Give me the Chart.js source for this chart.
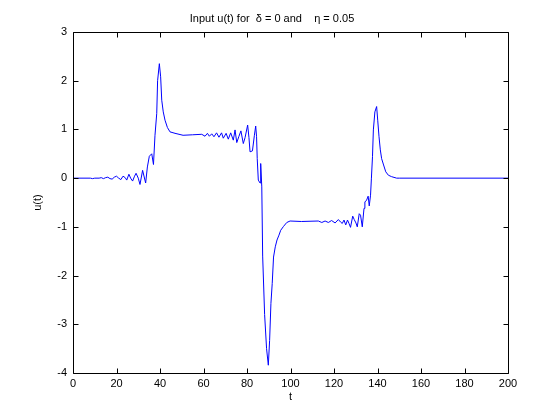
<!DOCTYPE html>
<html>
<head>
<meta charset="utf-8">
<script src="https://cdn.jsdelivr.net/npm/chart.js@4/dist/chart.umd.min.js"></script>
<style>
  html, body { margin: 0; padding: 0; background: #fff; }
  #wrap { width: 560px; height: 420px; }
</style>
</head>
<body>
<div id="wrap"><canvas id="c" width="560" height="420"></canvas></div>
<script>
const titleText = "Input u(t) for  \u03B4 = 0 and    \u03B7 = 0.05";
const xLabel = "t";
const yLabel = "u(t)";
const xTicks = [0, 20, 40, 60, 80, 100, 120, 140, 160, 180, 200];
const yTicks = [-4, -3, -2, -1, 0, 1, 2, 3];

const tValues = [
  0, 8, 9, 10, 12, 13, 14, 15, 16, 17, 18, 19, 20, 21, 22, 23, 24, 24.7, 25.7, 26.5,
  27.4, 28.3, 29, 30, 30.8, 32, 33.4, 34.2, 35.1, 36.2, 37, 37.7, 38.5, 38.9, 39.7, 40.3,
  40.8, 41.5, 42.3, 43.4, 44.6, 46.9, 50.6, 55, 59.2, 60.7, 61.8, 62.7, 63.8, 64.8,
  66, 67.1, 68.3, 69.1, 70.4, 71.4, 72.5, 73.7, 74.5, 75.3, 76.3, 77.2, 78.3, 79.1,
  80.3, 80.9, 81.4, 82.5, 83.4, 84.0, 84.4, 84.7, 85.2, 86.0, 86.3, 86.8, 87.2, 88.1,
  89.0, 89.8, 90.4, 91.0, 91.6, 92.2, 93.0, 93.8, 94.7, 95.5, 96.8, 98.3, 99.8, 105,
  112.8, 114.4, 115.9, 117.4, 118.9, 120.5, 122, 123, 123.8, 124.6, 125.4, 126.2,
  126.9, 127.6, 128.6, 129.3, 130.1, 130.7, 131.6, 132.2, 133.0, 133.8, 134.2, 135.0,
  135.7, 136.2, 136.8, 137.2, 137.7, 138.1, 138.8, 139.6, 140.1, 140.7, 141.3, 141.9,
  142.8, 143.8, 145, 146.5, 148.8, 150, 200
];
const uValues = [
  0, 0, -0.01, 0, 0, 0.01, -0.01, 0.01, 0.02, -0.01, -0.02, 0.02, 0.04, 0, -0.03, 0.04, 0.01, -0.04, 0.08, 0.0,
  -0.06, 0.04, 0.1, 0.0, -0.13, 0.16, -0.1, 0.23, 0.45, 0.5, 0.28, 0.88, 1.33, 2.0, 2.35, 2.08,
  1.6, 1.36, 1.19, 1.04, 0.95, 0.92, 0.88, 0.89, 0.9, 0.86, 0.92, 0.86, 0.91, 0.85,
  0.93, 0.84, 0.93, 0.82, 0.92, 0.8, 0.93, 0.78, 0.99, 0.73, 0.86, 0.97, 0.71, 0.83,
  1.09, 0.83, 0.54, 0.56, 0.88, 1.07, 0.85, 0.4, -0.04, -0.1, 0.3, -0.18, -1.6, -2.8,
  -3.5, -3.84, -3.33, -2.57, -2.16, -1.62, -1.41, -1.27, -1.17, -1.07, -0.99, -0.91, -0.88, -0.89,
  -0.88, -0.91, -0.88, -0.91, -0.87, -0.92, -0.85, -0.9, -0.93, -0.86, -0.96, -0.86,
  -0.93, -1.01, -0.78, -0.85, -0.92, -1.0, -0.73, -0.76, -1.0, -0.62, -0.49, -0.45,
  -0.37, -0.57, -0.35, 0.0, 0.44, 0.99, 1.36, 1.47, 1.19, 0.85, 0.58, 0.4,
  0.27, 0.13, 0.06, 0.03, 0.0, 0, 0
];

const FONT = "'Liberation Sans', Arial, Helvetica, sans-serif";

const boxTicks = {
  id: 'boxTicks',
  afterDraw(chart) {
    const { ctx, chartArea: a, scales: { x, y } } = chart;
    const L = 5;
    ctx.save();
    ctx.strokeStyle = '#000';
    ctx.lineWidth = 1;
    ctx.beginPath();
    const r = v => Math.round(v) + 0.5;
    ctx.rect(r(a.left), r(a.top), Math.round(a.right) - Math.round(a.left), Math.round(a.bottom) - Math.round(a.top));
    xTicks.forEach(v => {
      const px = r(x.getPixelForValue(v));
      ctx.moveTo(px, r(a.bottom)); ctx.lineTo(px, r(a.bottom) - L);
      ctx.moveTo(px, r(a.top)); ctx.lineTo(px, r(a.top) + L);
    });
    yTicks.forEach(v => {
      const py = r(y.getPixelForValue(v));
      ctx.moveTo(r(a.left), py); ctx.lineTo(r(a.left) + L, py);
      ctx.moveTo(r(a.right), py); ctx.lineTo(r(a.right) - L, py);
    });
    ctx.stroke();
    // title
    ctx.fillStyle = '#000';
    ctx.font = '11px ' + FONT;
    ctx.textAlign = 'center';
    ctx.textBaseline = 'middle';
    ctx.fillText(titleText, 272, 19);
    ctx.restore();
  }
};

new Chart(document.getElementById('c'), {
  type: 'line',
  data: {
    datasets: [{
      data: tValues.map((t, i) => ({ x: t, y: uValues[i] })),
      borderColor: '#0000ff',
      borderWidth: 1,
      pointRadius: 0,
      tension: 0,
      fill: false
    }]
  },
  options: {
    responsive: false,
    animation: false,
    devicePixelRatio: 1,
    layout: { padding: { top: 32, right: 52, left: 0, bottom: 0 } },
    plugins: { legend: { display: false }, tooltip: { enabled: false }, title: { display: false } },
    scales: {
      x: {
        type: 'linear', min: 0, max: 200,
        afterBuildTicks: s => { s.ticks = xTicks.map(v => ({ value: v })); },
        afterFit: s => { s.height = 47; },
        grid: { display: false, drawTicks: false },
        border: { display: false },
        ticks: { color: '#000', font: { family: FONT, size: 11 }, padding: 4, maxRotation: 0, autoSkip: false },
        title: { display: true, text: xLabel, color: '#000', font: { family: FONT, size: 11 }, padding: { top: 0, bottom: 16 } }
      },
      y: {
        type: 'linear', min: -4, max: 3,
        afterBuildTicks: s => { s.ticks = yTicks.map(v => ({ value: v })); },
        afterFit: s => { s.width = 73; },
        grid: { display: false, drawTicks: false },
        border: { display: false },
        ticks: { color: '#000', font: { family: FONT, size: 11 }, padding: 6, autoSkip: false },
        title: { display: true, text: yLabel, color: '#000', font: { family: FONT, size: 11 }, padding: { top: 31, bottom: 0 } }
      }
    }
  },
  plugins: [boxTicks]
});
</script>
</body>
</html>
